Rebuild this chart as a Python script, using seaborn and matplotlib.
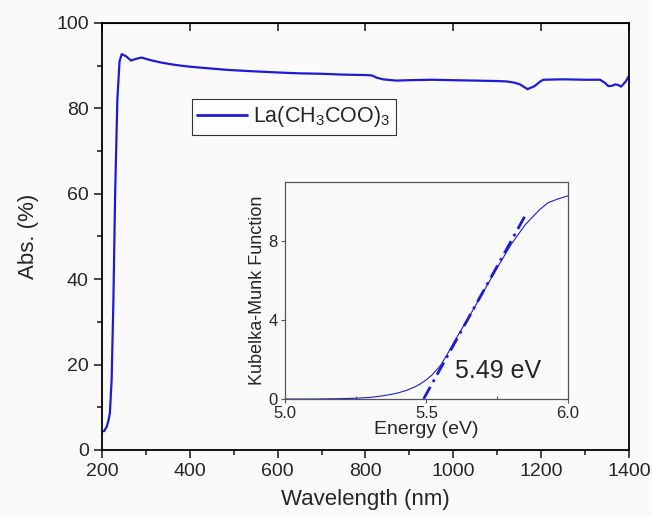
import numpy as np
import matplotlib
matplotlib.use("Agg")
import matplotlib.pyplot as plt
import seaborn as sns
from matplotlib.ticker import MultipleLocator

# main spectrum
wavelength = [200, 205, 211, 215, 218, 222, 226, 230, 235, 240, 245, 255, 266, 278, 290,
              310, 336, 365, 396, 440, 487, 540, 601, 650, 700, 750, 800, 815, 825, 840,
              870, 900, 950, 1000, 1050, 1100, 1122, 1140, 1152, 1169, 1185, 1198, 1205,
              1250, 1300, 1334, 1345, 1353, 1362, 1368, 1375, 1382, 1392, 1400]
absorbance = [4.5, 4.4, 5.5, 7.0, 8.6, 16.4, 35, 60, 82, 91, 92.7, 92.2, 91.2, 91.6, 91.9,
              91.3, 90.7, 90.2, 89.8, 89.4, 89.0, 88.7, 88.4, 88.2, 88.1, 87.9, 87.8, 87.7,
              87.2, 86.8, 86.5, 86.6, 86.7, 86.6, 86.5, 86.4, 86.3, 86.0, 85.6, 84.5, 85.2,
              86.3, 86.7, 86.8, 86.7, 86.7, 86.0, 85.2, 85.3, 85.6, 85.5, 85.1, 86.2, 87.6]

# inset: Kubelka-Munk
energy = [5.0, 5.1, 5.15, 5.2, 5.25, 5.3, 5.34, 5.37, 5.4, 5.43, 5.46, 5.48, 5.5, 5.52,
          5.55, 5.575, 5.6, 5.65, 5.7, 5.75, 5.8, 5.85, 5.9, 5.93, 5.96, 6.0]
km = [0.0, 0.0, 0.01, 0.02, 0.04, 0.08, 0.15, 0.22, 0.31, 0.44, 0.62, 0.78, 0.98, 1.22,
      1.7, 2.3, 2.95, 4.15, 5.4, 6.65, 7.85, 8.85, 9.6, 9.95, 10.12, 10.3]
fit_energy = [5.49, 5.855]
fit_km = [0.0, 9.45]

sns.set_style("ticks")
plt.rcParams['font.family'] = ['Liberation Sans', 'DejaVu Sans']
plt.rcParams['mathtext.default'] = 'regular'
blue = "#1c1cd6"

fig = plt.figure(figsize=(6.52, 5.17), dpi=100)
fig.patch.set_facecolor("#fafafa")
ax = fig.add_axes([0.1564, 0.1296, 0.8083, 0.826])
ax.set_facecolor("#fafafa")
sns.lineplot(x=wavelength, y=absorbance, ax=ax, color=blue, linewidth=1.6,
             label="La(CH$_3$COO)$_3$")
ax.set_xlim(200, 1400)
ax.set_ylim(0, 100)
ax.xaxis.set_major_locator(MultipleLocator(200))
ax.xaxis.set_minor_locator(MultipleLocator(100))
ax.yaxis.set_major_locator(MultipleLocator(20))
ax.yaxis.set_minor_locator(MultipleLocator(10))
ax.tick_params(which="major", direction="out", length=6, width=1.2, labelsize=14)
ax.tick_params(which="minor", direction="out", length=3.5, width=1.2)
for s in ax.spines.values():
    s.set_linewidth(1.3)
    s.set_color("black")
top = ax.secondary_xaxis("top")
top.xaxis.set_major_locator(MultipleLocator(200))
top.tick_params(direction="in", length=6, width=1.2, labeltop=False)
ax.set_xlabel("Wavelength (nm)", fontsize=16, labelpad=6)
ax.set_ylabel("Abs. (%)", fontsize=16, labelpad=12)
leg = ax.legend(loc="upper left", bbox_to_anchor=(0.171, 0.822), fontsize=15.5,
                frameon=True, fancybox=False, edgecolor="black", handlelength=2.3,
                handletextpad=0.3, borderpad=0.25, borderaxespad=0)
leg.get_frame().set_linewidth(0.8)
leg.get_lines()[0].set_linewidth(2.0)

ins = fig.add_axes([0.437, 0.2282, 0.434, 0.4197])
ins.set_facecolor("#fafafa")
sns.lineplot(x=energy, y=km, ax=ins, color=blue, linewidth=0.8)
sns.lineplot(x=fit_energy, y=fit_km, ax=ins, color=blue, linewidth=2.0,
             linestyle=(0, (5, 2, 1, 2)))
ins.set_xlim(5.0, 6.0)
ins.set_ylim(0, 11)
ins.xaxis.set_major_locator(MultipleLocator(0.5))
ins.xaxis.set_minor_locator(MultipleLocator(0.25))
ins.yaxis.set_major_locator(MultipleLocator(4))
ins.tick_params(which="major", direction="out", length=3, width=0.8, labelsize=12,
                color="#555555", pad=2)
ins.tick_params(axis="x", which="minor", direction="in", length=2.5, width=0.8,
                color="#555555")
for s in ins.spines.values():
    s.set_linewidth(0.9)
    s.set_color("#555555")
ins.set_xlabel("Energy (eV)", fontsize=14, labelpad=0)
ins.set_ylabel("Kubelka-Munk Function", fontsize=13, labelpad=2)
ins.text(5.6, 1.4, "5.49 eV", fontsize=18, va="center", ha="left")

fig.savefig("out.png", dpi=100, facecolor=fig.get_facecolor())
